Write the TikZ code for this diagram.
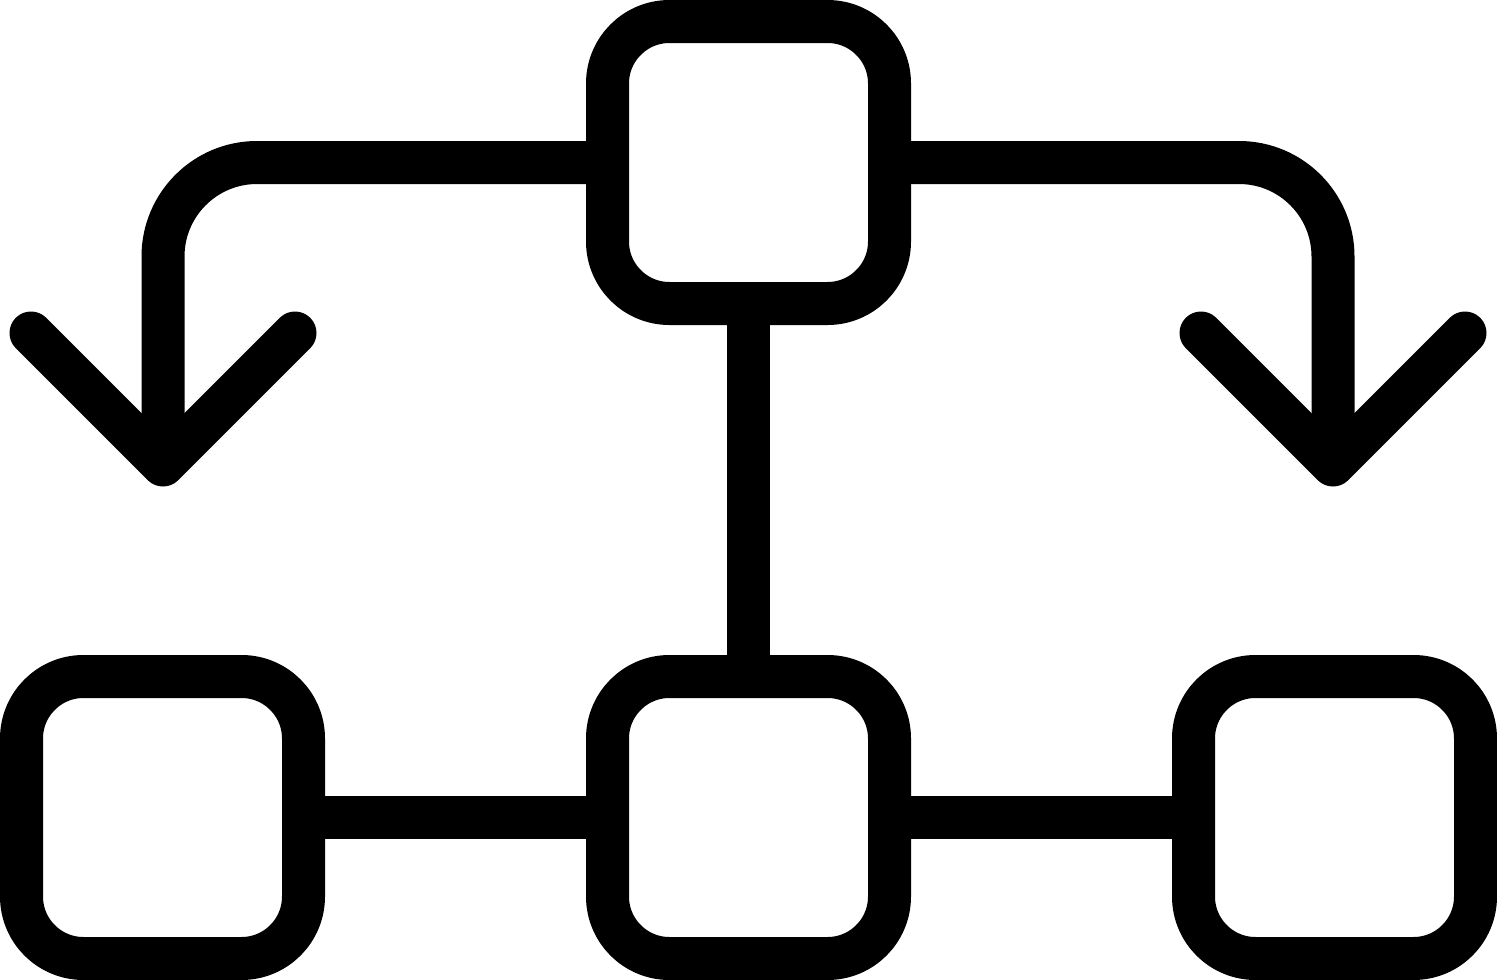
\documentclass[tikz,border=0pt]{standalone}
\begin{document}
\begin{tikzpicture}[x=1pt,y=-1pt,
  box/.style={draw=black,line width=43pt,minimum width=282pt,minimum height=282pt,inner sep=0pt,outer sep=0pt,rounded corners=62pt},
  conn/.style={draw=black,line width=43pt},
  chev/.style={draw=black,line width=43pt,line cap=round,line join=round}]
\useasboundingbox (0,0) rectangle (1497,980);
\node[box] (top) at (748.5,162.5) {};
\node[box] (bl) at (162.5,817.5) {};
\node[box] (bm) at (748.5,817.5) {};
\node[box] (br) at (1334.5,817.5) {};
\coordinate (tipL) at (163,465);
\coordinate (tipR) at (1333,465);
\coordinate (la) at (31,333);
\coordinate (lb) at (295,333);
\coordinate (ra) at (1201,333);
\coordinate (rb) at (1465,333);
\draw[conn] (top.south) -- (bm.north);
\draw[conn] (bl.east) -- (bm.west);
\draw[conn] (bm.east) -- (br.west);
\draw[conn,rounded corners=94pt] (top.west) -| (tipL);
\draw[conn,rounded corners=94pt] (top.east) -| (tipR);
\draw[chev] (la) -- (tipL) -- (lb);
\draw[chev] (ra) -- (tipR) -- (rb);
\end{tikzpicture}
\end{document}
